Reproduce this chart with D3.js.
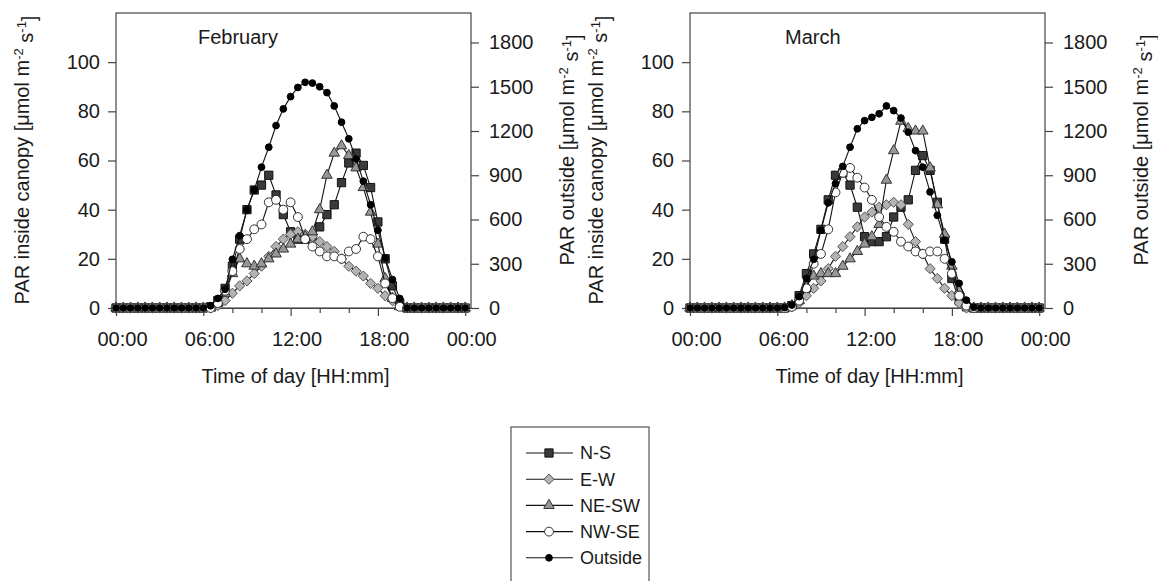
<!DOCTYPE html>
<html>
<head>
<meta charset="utf-8">
<script src="https://cdn.jsdelivr.net/npm/d3@7"></script>
<style>
  body { margin: 0; background: #fff; }
  svg text { font-family: "Liberation Sans", Arial, sans-serif; fill: #1a1a1a; }
</style>
</head>
<body>
<svg id="chart" width="1158" height="581"></svg>
<script>
// time of day, every half hour
const hours = [0, 0.5, 1, 1.5, 2, 2.5, 3, 3.5, 4, 4.5, 5, 5.5, 6, 6.5, 7, 7.5, 8, 8.5, 9, 9.5, 10, 10.5, 11, 11.5,
  12, 12.5, 13, 13.5, 14, 14.5, 15, 15.5, 16, 16.5, 17, 17.5, 18, 18.5, 19, 19.5, 20, 20.5, 21, 21.5, 22, 22.5, 23, 23.5, 24];

const seriesNames = ["N-S", "E-W", "NE-SW", "NW-SE", "Outside"];
const monthNames = ["February", "March"];
const xTickLabels = ["00:00", "06:00", "12:00", "18:00", "00:00"];
const leftTicks = [0, 20, 40, 60, 80, 100];
const rightTicks = [0, 300, 600, 900, 1200, 1500, 1800];

// February - PAR inside canopy (left axis)
const febNS   = [0,0,0,0,0,0,0,0,0,0,0,0,0, 0.5,3,8,17,28,40,48,50,54,46,38,31,28,28,29,33,38,42,51,59,63,58,49,35,20,9,2,0, 0,0,0,0,0,0,0,0];
const febEW   = [0,0,0,0,0,0,0,0,0,0,0,0,0, 0,1,3,6,9,11,14,17,21,25,28,30,31,30,29,27,25,23,20,17,15,13,10,8,5,3,1,0, 0,0,0,0,0,0,0,0];
const febNESW = [0,0,0,0,0,0,0,0,0,0,0,0,0, 0,2,6,14,20,18,17,18,20,22,24,26,28,29,31,40,54,63,66,62,57,49,39,26,12,4,0.5,0, 0,0,0,0,0,0,0,0];
const febNWSE = [0,0,0,0,0,0,0,0,0,0,0,0,0, 0,2,7,15,24,28,32,34,43,44,40,43,37,28,25,23,21,21,20,23,24,29,28,21,10,4,0.5,0, 0,0,0,0,0,0,0,0];
// February - PAR outside (right axis)
const febOut  = [0,0,0,0,0,0,0,0,0,0,0,0,0, 15,65,127,330,490,665,800,955,1090,1237,1350,1433,1495,1530,1525,1500,1460,1370,1260,1147,1010,860,700,527,340,193,65,0, 0,0,0,0,0,0,0,0];

// March - PAR inside canopy (left axis)
const marNS   = [0,0,0,0,0,0,0,0,0,0,0,0,0, 0,1,5,14,22,32,44,54,55,50,41,29,27,27,29,37,41,44,56,62,56,43,28,12,3,0.5,0,0, 0,0,0,0,0,0,0,0];
const marEW   = [0,0,0,0,0,0,0,0,0,0,0,0,0, 0,0.5,2,5,8,11,16,21,25,29,33,37,39,41,42,43,42,34,27,22,16,12,8,5,2,0,0,0, 0,0,0,0,0,0,0,0];
const marNESW = [0,0,0,0,0,0,0,0,0,0,0,0,0, 0,1,3,9,13,14,14,14,17,20,23,26,29,34,52,64,76,73,72,72,57,42,30,17,7,2,0,0, 0,0,0,0,0,0,0,0];
const marNWSE = [0,0,0,0,0,0,0,0,0,0,0,0,0, 0,0.5,3,8,18,22,32,47,55,57,53,49,44,37,33,31,27,25,23,22,23,23,20,14,5,1,0,0, 0,0,0,0,0,0,0,0];
// March - PAR outside (right axis)
const marOut  = [0,0,0,0,0,0,0,0,0,0,0,0,0, 3,20,77,200,330,527,713,843,960,1090,1215,1270,1293,1317,1370,1338,1288,1192,1067,955,787,628,460,313,167,53,5,0, 0,0,0,0,0,0,0,0];

const panels = [
  { name: monthNames[0], x0: 116, titleDx: 82, rightTitleDx: 96, series: [febNS, febEW, febNESW, febNWSE, febOut] },
  { name: monthNames[1], x0: 690, titleDx: 95, rightTitleDx: 96, series: [marNS, marEW, marNESW, marNWSE, marOut] }
];

const W = 355, plotTop = 13, plotBottom = 308;

// marker styles per series
const diamond = {
  draw(ctx, size) {
    const r = Math.sqrt(size / 2);
    ctx.moveTo(0, -r); ctx.lineTo(r, 0); ctx.lineTo(0, r); ctx.lineTo(-r, 0); ctx.closePath();
  }
};
const styles = [
  { type: d3.symbolSquare, size: 68, fill: "#3a3a3a", stroke: "#111" },
  { type: diamond, size: 52, fill: "#b3b3b3", stroke: "#555" },
  { type: d3.symbolTriangle, size: 48, fill: "#979797", stroke: "#333" },
  { type: d3.symbolCircle, size: 62, fill: "#fff", stroke: "#333" },
  { type: d3.symbolCircle, size: 36, fill: "#000", stroke: "#000" }
];

const svg = d3.select("#chart");

function addParTitle(g, x, y, label) {
  const t = g.append("text")
    .attr("transform", `translate(${x},${y}) rotate(-90)`)
    .attr("text-anchor", "middle")
    .attr("dy", "0.35em")
    .style("font-size", "20px");
  t.append("tspan").text(label + " [\u03bcmol m");
  t.append("tspan").attr("dy", "-0.5em").style("font-size", "13px").text("-2");
  t.append("tspan").attr("dy", "0.5em").text(" s");
  t.append("tspan").attr("dy", "-0.5em").style("font-size", "13px").text("-1");
  t.append("tspan").attr("dy", "0.5em").text("]");
}

panels.forEach(p => {
  const g = svg.append("g");
  const x = d3.scaleLinear().domain([0, 24.4]).range([p.x0, p.x0 + W]);
  const y = d3.scaleLinear().domain([0, 120]).range([plotBottom, plotTop]);
  const yR = d3.scaleLinear().domain([0, 2000]).range([plotBottom, plotTop]);

  // frame
  g.append("rect")
    .attr("x", p.x0).attr("y", plotTop).attr("width", W).attr("height", plotBottom - plotTop)
    .attr("fill", "none").attr("stroke", "#444").attr("stroke-width", 1.2);

  // left axis
  const ax = g.append("g").attr("transform", `translate(${p.x0},0)`)
    .call(d3.axisLeft(y).tickValues(leftTicks).tickSize(8).tickSizeOuter(0).tickPadding(8));
  ax.select(".domain").remove();

  // right axis
  const axR = g.append("g").attr("transform", `translate(${p.x0 + W},0)`)
    .call(d3.axisRight(yR).tickValues(rightTicks).tickFormat(d3.format("d"))
      .tickSize(8).tickSizeOuter(0).tickPadding(10));
  axR.select(".domain").remove();

  // bottom axis: minor every 2 h, labelled every 6 h
  const axB = g.append("g").attr("transform", `translate(0,${plotBottom})`)
    .call(d3.axisBottom(x).tickValues(d3.range(0, 25, 2)).tickSize(5).tickSizeOuter(0)
      .tickFormat(d => d % 6 === 0 ? xTickLabels[d / 6] : ""));
  axB.select(".domain").attr("stroke", "#444").attr("stroke-width", 1.2);
  axB.selectAll(".tick line").attr("y2", d => d % 6 === 0 ? 8 : 5);
  axB.selectAll(".tick text").attr("y", 24).attr("dx", 6).attr("dy", "0.71em");

  [ax, axR, axB].forEach(a => {
    a.selectAll(".tick line").attr("stroke", "#444").attr("stroke-width", 1.2);
    a.selectAll(".tick text").style("font-size", "20px").attr("fill", "#1a1a1a");
  });

  // axis titles
  g.append("text")
    .attr("x", p.x0 + W / 2 + 2).attr("y", 383)
    .attr("text-anchor", "middle").style("font-size", "20px")
    .text("Time of day [HH:mm]");
  addParTitle(g, p.x0 - 94, 160, "PAR inside canopy");
  addParTitle(g, p.x0 + W + p.rightTitleDx, 150, "PAR outside");

  g.append("text")
    .attr("x", p.x0 + p.titleDx).attr("y", 44)
    .style("font-size", "20px").text(p.name);

  // series
  p.series.forEach((vals, si) => {
    const ys = si === 4 ? yR : y;
    const pts = hours.map((h, i) => [x(h), ys(vals[i])]);
    const st = styles[si];
    g.append("path")
      .attr("d", d3.line()(pts))
      .attr("fill", "none").attr("stroke", "#111").attr("stroke-width", 1.1);
    g.append("g").selectAll("path")
      .data(pts)
      .join("path")
      .attr("transform", d => `translate(${d[0]},${d[1]})`)
      .attr("d", d3.symbol().type(st.type).size(st.size)())
      .attr("fill", st.fill).attr("stroke", st.stroke).attr("stroke-width", 1);
  });
});

// legend
const lg = svg.append("g");
lg.append("rect")
  .attr("x", 511).attr("y", 427).attr("width", 138).attr("height", 160)
  .attr("fill", "#fff").attr("stroke", "#555").attr("stroke-width", 1.2);
seriesNames.forEach((name, i) => {
  const cy = 453 + i * 26.2;
  const st = styles[i];
  lg.append("line").attr("x1", 526).attr("x2", 573).attr("y1", cy).attr("y2", cy)
    .attr("stroke", "#111").attr("stroke-width", 1.1);
  lg.append("path")
    .attr("transform", `translate(549,${cy})`)
    .attr("d", d3.symbol().type(st.type).size(st.size)())
    .attr("fill", st.fill).attr("stroke", st.stroke).attr("stroke-width", 1);
  lg.append("text").attr("x", 580).attr("y", cy).attr("dy", "0.35em")
    .style("font-size", "18px").text(name);
});
</script>
</body>
</html>
